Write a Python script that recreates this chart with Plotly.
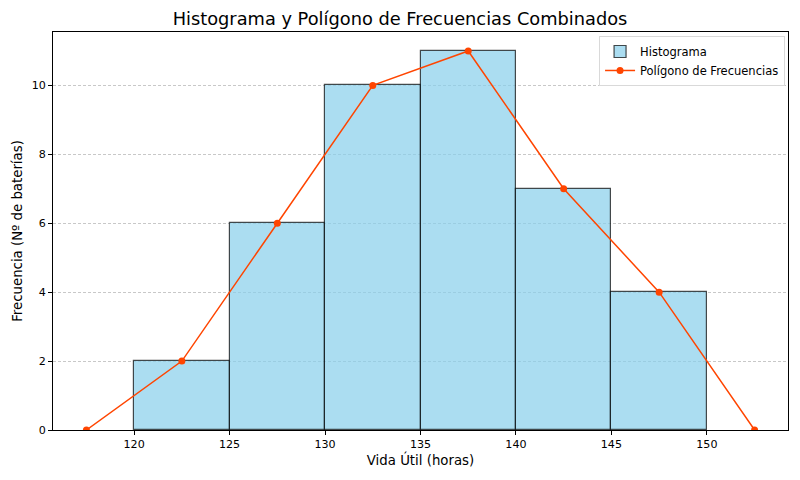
import plotly.graph_objects as go

# datos de la tabla de frecuencias
bin_edges = [120, 125, 130, 135, 140, 145, 150]
counts = [2, 6, 10, 11, 7, 4]
poly_x = [117.5, 122.5, 127.5, 132.5, 137.5, 142.5, 147.5, 152.5]
poly_y = [0, 2, 6, 10, 11, 7, 4, 0]
x_ticks = [120, 125, 130, 135, 140, 145, 150]
y_ticks = [0, 2, 4, 6, 8, 10]

centers = [(a + b) / 2 for a, b in zip(bin_edges[:-1], bin_edges[1:])]
widths = [b - a for a, b in zip(bin_edges[:-1], bin_edges[1:])]

# the page body has an 8px margin, so the figure is a bit smaller
W, H = 784, 464

fig = go.Figure()
fig.add_trace(go.Bar(
    x=centers, y=counts, width=widths,
    name="Histograma",
    marker=dict(color="rgba(135,206,235,0.7)",
                line=dict(color="rgba(0,0,0,0.7)", width=1.2)),
))
fig.add_trace(go.Scatter(
    x=poly_x, y=poly_y, mode="lines+markers",
    name="Polígono de Frecuencias",
    line=dict(color="#FF4500", width=1.5),
    marker=dict(color="#FF4500", size=7),
))

fig.update_layout(
    width=W, height=H,
    margin=dict(l=45, r=4, t=24, b=42),
    paper_bgcolor="white", plot_bgcolor="white",
    font=dict(family="DejaVu Sans", color="black"),
    title=dict(text="Histograma y Polígono de Frecuencias Combinados",
               x=0.5, xanchor="center", y=1 - 11 / H, yanchor="middle",
               font=dict(size=17.8, color="black")),
    showlegend=True,
    legend=dict(x=0.996, y=0.99, xanchor="right", yanchor="top",
                bgcolor="rgba(255,255,255,0.8)", bordercolor="#d9d9d9",
                borderwidth=1, font=dict(size=11.5, color="black"),
                tracegroupgap=0, itemwidth=30),
    bargap=0,
)
fig.update_xaxes(
    range=[115.75, 154.25], tickvals=x_ticks, automargin=False,
    title=dict(text="Vida Útil (horas)", font=dict(size=13.3, color="black"), standoff=4),
    showline=True, linecolor="black", linewidth=1, mirror=True,
    ticks="outside", ticklen=4, tickcolor="black", tickfont=dict(size=11.1),
    showgrid=False, zeroline=False,
)
fig.update_yaxes(
    range=[0, 11.55], tickvals=y_ticks, automargin=False,
    title=dict(text="Frecuencia (Nº de baterías)", font=dict(size=13.3, color="black"), standoff=6),
    showline=True, linecolor="black", linewidth=1, mirror=True,
    ticks="outside", ticklen=4, tickcolor="black", tickfont=dict(size=11.1),
    showgrid=True, gridcolor="rgba(176,176,176,0.7)", griddash="3px,2px", gridwidth=0.8,
    zeroline=False,
)

fig.write_html("out.html")
